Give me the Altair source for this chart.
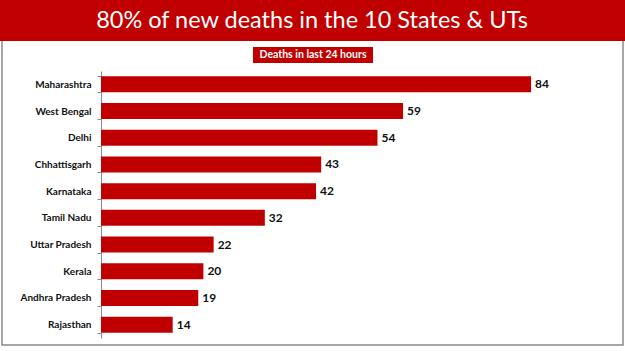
import altair as alt
import pandas as pd

states = ["Maharashtra", "West Bengal", "Delhi", "Chhattisgarh", "Karnataka",
          "Tamil Nadu", "Uttar Pradesh", "Kerala", "Andhra Pradesh", "Rajasthan"]
deaths = [84, 59, 54, 43, 42, 32, 22, 20, 19, 14]

title_text = "80% of new deaths in the 10 States & UTs"
subtitle_text = "Deaths in last 24 hours"

df = pd.DataFrame({"state": states, "deaths": deaths})
RED = "#C00000"
L, T, W, H = 101, 71, 512, 267

base = alt.Chart(df)

y_enc = alt.Y("state:N", sort=states, title=None,
              scale=alt.Scale(paddingInner=0.4, paddingOuter=0.2),
              axis=alt.Axis(labelFont="Lato", labelFontWeight="bold", labelFontSize=10,
                            labelColor="#111", labelPadding=6, tickBand="extent",
                            domainColor="#8a8a8a", tickColor="#8a8a8a", tickSize=4))
x_enc = alt.X("deaths:Q", scale=alt.Scale(domain=[0, 100], nice=False), axis=None)

bars = base.mark_bar(color=RED).encode(x=x_enc, y=y_enc)
labels = base.mark_text(align="left", dx=4, font="Lato", fontWeight="bold",
                        fontSize=12, color="#111").encode(x=x_enc, y=alt.Y("state:N", sort=states), text="deaths:Q")

one = pd.DataFrame({"t": [title_text], "s": [subtitle_text]})
frame = alt.Chart(one).mark_rect(fill=None, stroke="#8a8a8a", strokeWidth=1.5).encode(
    x=alt.value(-L + 2), x2=alt.value(625 - L - 2), y=alt.value(-T + 30), y2=alt.value(345 - T))
banner = alt.Chart(one).mark_rect(fill=RED).encode(
    x=alt.value(-L), x2=alt.value(625 - L), y=alt.value(-T), y2=alt.value(41 - T))
title = alt.Chart(one).mark_text(font="Lato", fontSize=23.5, color="white", baseline="middle").encode(
    x=alt.value(312 - L), y=alt.value(21 - T), text="t:N")
subbox = alt.Chart(one).mark_rect(fill=RED).encode(
    x=alt.value(253 - L), x2=alt.value(373 - L), y=alt.value(47 - T), y2=alt.value(63 - T))
subtitle = alt.Chart(one).mark_text(font="Lato", fontWeight="bold", fontSize=10.5, color="white",
                                    baseline="middle").encode(
    x=alt.value(313 - L), y=alt.value(55 - T), text="s:N")

chart = alt.layer(frame, banner, title, subbox, subtitle, bars, labels).properties(
    width=W, height=H,
    padding={"left": L, "top": T, "right": 625 - L - W, "bottom": 351 - T - H},
    autosize=alt.AutoSizeParams(type="none"),
    background="white",
).configure_view(stroke=None)

chart.save("out.html", embed_options={"renderer": "svg", "actions": False})
